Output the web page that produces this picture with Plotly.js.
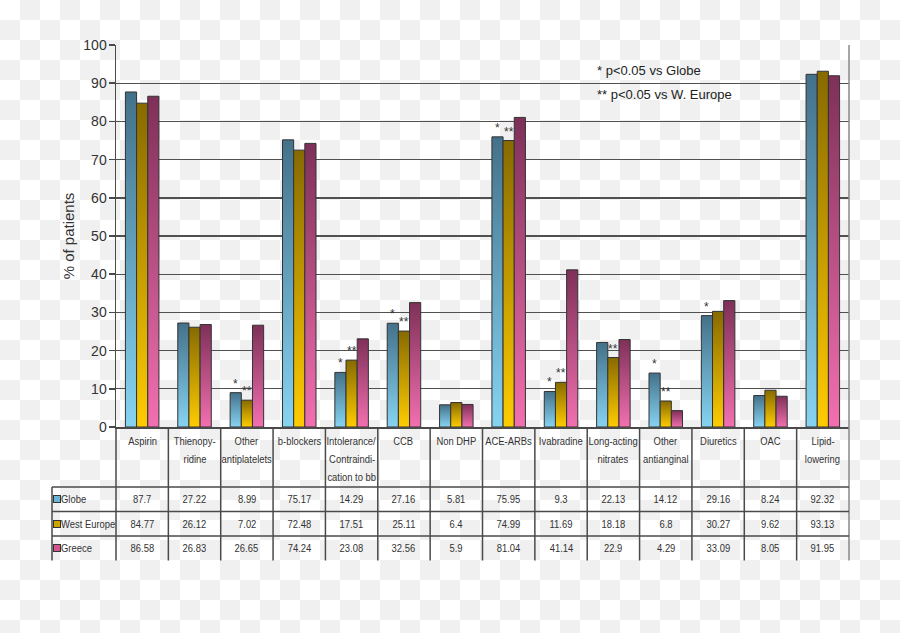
<!DOCTYPE html>
<html><head><meta charset="utf-8">
<script src="https://cdn.plot.ly/plotly-3.0.1.min.js"></script>
<style>
html,body{margin:0;padding:0;width:900px;height:633px;overflow:hidden;
background:repeating-conic-gradient(#f0f0f0 0 25%, #ffffff 0 50%) 0 0/40px 40px;}
#chart{width:900px;height:633px;}
</style></head><body><div id="chart"></div>
<script>
// ---- data ----
const categories = ['Aspirin','Thienopy-<br>ridine','Other<br>antiplatelets','b-blockers',
  'Intolerance/<br>Contraindi-<br>cation to bb','CCB','Non DHP','ACE-ARBs','Ivabradine',
  'Long-acting<br>nitrates','Other<br>antianginal','Diuretics','OAC','Lipid-<br>lowering'];
const seriesNames = ['Globe','West Europe','Greece'];
const globe      = [87.7, 27.22, 8.99, 75.17, 14.29, 27.16, 5.81, 75.95, 9.3, 22.13, 14.12, 29.16, 8.24, 92.32];
const westEurope = [84.77, 26.12, 7.02, 72.48, 17.51, 25.11, 6.4, 74.99, 11.69, 18.18, 6.8, 30.27, 9.62, 93.13];
const greece     = [86.58, 26.83, 26.65, 74.24, 23.08, 32.56, 5.9, 81.04, 41.14, 22.9, 4.29, 33.09, 8.05, 91.95];
const starGlobe  = [2, 4, 5, 7, 8, 10, 11];   // '*'  p<0.05 vs Globe
const starWEur   = [2, 4, 5, 7, 8, 9, 10];    // '**' p<0.05 vs W. Europe
const yTicks = [0,10,20,30,40,50,60,70,80,90,100];
const noteLines = ['* p<0.05 vs Globe', '** p<0.05 vs W. Europe'];

// ---- styles ----
const values = [globe, westEurope, greece];
const gradStops = [['#86d4f2','#44718a'], ['#ffcc00','#876a00'], ['#f270b0','#7e3058']];
const swatchCols = ['#6bb6d6', '#cfa400', '#d2548e'];
const sans = 'Liberation Sans, Arial, sans-serif';
const narrowScale = 0.82;
const lineCol = '#4a4a4a';

const Wd = 900, Ht = 633, L = 116, R = 51, T = 45, B = 206;
const plotW = Wd - L - R, plotH = Ht - T - B;
const px2x = px => (px - L) / plotW;
const dy2y = d => -d / plotH;
const N = categories.length;
const bargap = 0.36;
const barW = plotW / N * (1 - bargap) / 3;
const headerH = 60, rowH = 24.5, tableLeft = 52, labelTop = 14, labelStep = 18;

const xcats = categories.map(c => c.replace(/<br>/g, ' '));

const data = values.map((v, k) => ({
  type: 'bar', name: seriesNames[k], x: xcats, y: v,
  marker: {color: gradStops[k][0], line: {color: '#333', width: 1}},
  hoverinfo: 'none'
}));

const annotations = [];
const narrowIdx = [];   // [annotation index, anchor] to condense horizontally
const tableFont = {family: sans, size: 11.5, color: '#333'};
// category labels (table header)
categories.forEach((c, i) => {
  c.split('<br>').forEach((ln, j) => {
    narrowIdx.push([annotations.length, 'center']);
    annotations.push({xref: 'x', yref: 'paper', x: i, y: dy2y(labelTop + j * labelStep),
      text: ln, showarrow: false, xanchor: 'center', yanchor: 'middle', font: tableFont});
  });
});
// table values
values.forEach((v, k) => {
  const yc = dy2y(headerH + (k + 0.5) * rowH);
  v.forEach((val, i) => {
    narrowIdx.push([annotations.length, 'center']);
    annotations.push({xref: 'x', yref: 'paper', x: i, y: yc,
      text: String(val), showarrow: false, xanchor: 'center', yanchor: 'middle', font: tableFont});
  });
  annotations.push({xref: 'paper', yref: 'paper', x: px2x(tableLeft + 0.5), y: yc,
    text: ' ', width: 6, height: 6, borderpad: 0, bgcolor: swatchCols[k],
    bordercolor: '#333', borderwidth: 1, showarrow: false, xanchor: 'left', yanchor: 'middle'});
  narrowIdx.push([annotations.length, 'left']);
  annotations.push({xref: 'paper', yref: 'paper', x: px2x(tableLeft + 7), y: yc,
    text: seriesNames[k], showarrow: false, xanchor: 'left', yanchor: 'middle', font: tableFont});
});
// significance stars
starGlobe.forEach(i => annotations.push({xref: 'x', yref: 'y', x: i, y: globe[i], xshift: -barW,
  text: '*', showarrow: false, yanchor: 'bottom', font: {family: sans, size: 12, color: '#333'}}));
starWEur.forEach(i => annotations.push({xref: 'x', yref: 'y', x: i, y: westEurope[i], xshift: 0,
  text: '**', showarrow: false, yanchor: 'bottom', font: {family: sans, size: 12, color: '#333'}}));
// notes
noteLines.forEach((t, j) => annotations.push({xref: 'paper', yref: 'paper', x: px2x(595),
  y: (Ht - B - (70 + 24.5 * j)) / plotH, text: t, showarrow: false, xanchor: 'left', yanchor: 'middle',
  font: {family: sans, size: 13, color: '#222'}}));

const shapes = [];
const tableBottom = dy2y(headerH + 3 * rowH);
for (let i = 0; i <= N; i++) {
  shapes.push({type: 'line', xref: 'paper', yref: 'paper', x0: i / N, x1: i / N,
    y0: tableBottom, y1: i === N ? 1 : 0, line: {color: i === N ? '#888' : lineCol, width: 1.5}});
}
shapes.push({type: 'line', xref: 'paper', yref: 'paper', x0: px2x(tableLeft), x1: px2x(tableLeft),
  y0: dy2y(headerH), y1: tableBottom, line: {color: lineCol, width: 1.5}});
for (let r = 0; r < 3; r++) {
  shapes.push({type: 'line', xref: 'paper', yref: 'paper', x0: px2x(tableLeft), x1: 1,
    y0: dy2y(headerH + r * rowH), y1: dy2y(headerH + r * rowH), line: {color: lineCol, width: 1.5}});
}

const layout = {
  width: Wd, height: Ht, margin: {l: L, r: R, t: T, b: B},
  paper_bgcolor: 'rgba(0,0,0,0)', plot_bgcolor: 'rgba(0,0,0,0)',
  barmode: 'group', bargap: bargap, bargroupgap: 0, showlegend: false,
  xaxis: {type: 'category', showticklabels: false, ticks: '', showgrid: false, zeroline: false,
    showline: true, linecolor: lineCol, linewidth: 1.5, range: [-0.5, N - 0.5]},
  yaxis: {range: [0, 100], tickvals: yTicks, ticks: 'outside', ticklen: 6, tickcolor: lineCol,
    tickwidth: 1.5, showline: true, linecolor: lineCol, linewidth: 1.5, gridcolor: '#505050',
    gridwidth: 1.4, zeroline: false, ticklabelstandoff: -1,
    tickfont: {family: sans, size: 14, color: '#333'},
    title: {text: '% of patients', font: {family: sans, size: 15, color: '#333'}, standoff: 5}},
  annotations: annotations, shapes: shapes
};

Plotly.newPlot('chart', data, layout, {staticPlot: true}).then(gd => {
  const svg = gd.querySelector('svg.main-svg');
  const ns = 'http://www.w3.org/2000/svg';
  let defs = svg.querySelector('defs');
  if (!defs) { defs = document.createElementNS(ns, 'defs'); svg.insertBefore(defs, svg.firstChild); }
  gradStops.forEach((st, k) => {
    const g = document.createElementNS(ns, 'linearGradient');
    g.setAttribute('id', 'barGrad' + k);
    g.setAttribute('x1', '0'); g.setAttribute('y1', '1'); g.setAttribute('x2', '0'); g.setAttribute('y2', '0');
    [[0, st[0]], [1, st[1]]].forEach(([o, c]) => {
      const s = document.createElementNS(ns, 'stop');
      s.setAttribute('offset', o); s.setAttribute('stop-color', c);
      g.appendChild(s);
    });
    defs.appendChild(g);
  });
  gd.querySelectorAll('g.trace.bars').forEach((tr, k) => {
    tr.querySelectorAll('path').forEach(p => { p.style.fill = 'url(#barGrad' + k + ')'; });
  });
  // condensed (narrow) table text
  narrowIdx.forEach(([idx, anchor]) => {
    const t = gd.querySelector('g.annotation[data-index="' + idx + '"] text');
    if (!t) return;
    const bb = t.getBBox();
    const cx = anchor === 'left' ? bb.x : bb.x + bb.width / 2;
    t.setAttribute('transform', 'translate(' + cx + ' 0) scale(' + narrowScale + ' 1) translate(' + (-cx) + ' 0)');
  });
});
</script></body></html>
